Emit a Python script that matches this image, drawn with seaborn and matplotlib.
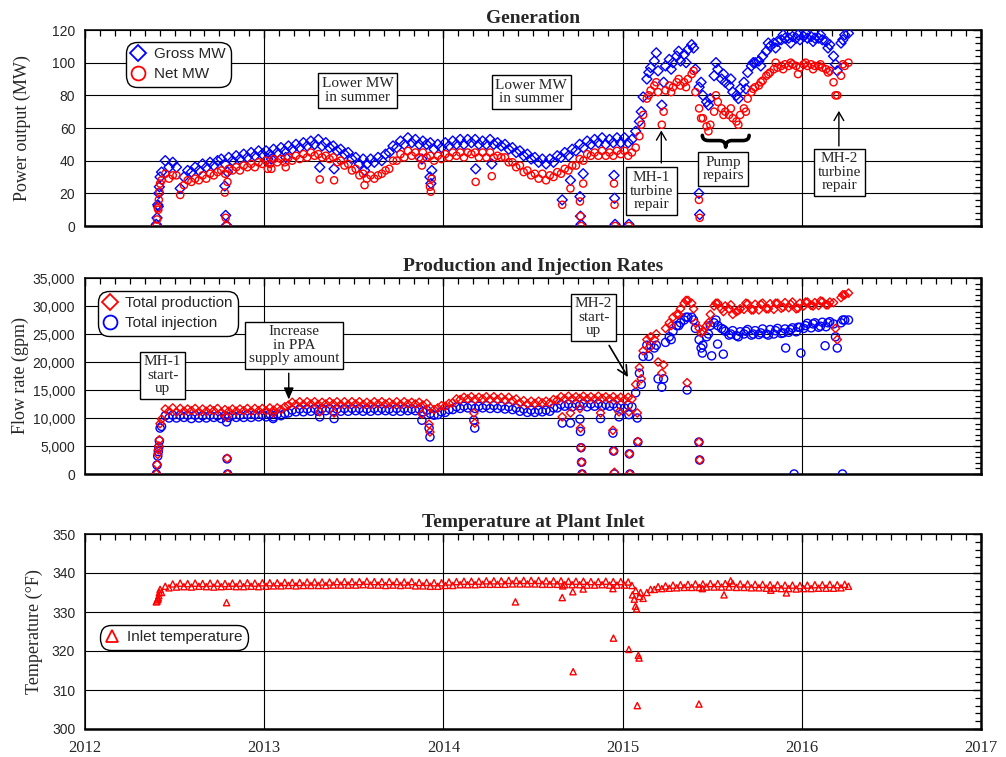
import numpy as np
import matplotlib
matplotlib.use("Agg")
import matplotlib.pyplot as plt
import seaborn as sns
from matplotlib.lines import Line2D
from matplotlib.ticker import MultipleLocator, FuncFormatter
from matplotlib.path import Path
from matplotlib.patches import PathPatch

# ------------------------------------------------------------------ data
# Regular readings: 4 per month, Jun 2012 ... Mar 2016, plus first week of Apr 2016
gross_mw = [
    33, 40, 36, 39,  36, 23, 30, 34,  33, 36, 34, 38,  36, 39, 37, 40,  41, 38, 42, 40,  43, 41, 44, 42,  45, 43, 46, 44,
    46, 44, 47, 45,  48, 46, 49, 47,  50, 48, 51, 49,  52, 50, 53, 49,  51, 48, 49, 46,  47, 44, 45, 41,
    42, 38, 41, 38,  41, 39, 42, 40,  44, 45, 49, 48,  52, 50, 54, 51,  53, 50, 52, 50,  51, 47, 50, 48,
    51, 49, 52, 50,  53, 50, 53, 51,  53, 50, 52, 50,  53, 50, 51, 49,  50, 47, 48, 45,  46, 43, 44, 41,
    42, 39, 41, 38,  41, 39, 43, 42,  45, 43, 47, 46,  50, 48, 52, 50,  53, 51, 54, 50,  53, 51, 54, 51,
    54, 51, 53, 58,  64, 79, 90, 97,  101, 95, 74, 98,  102, 100, 104, 101,  105, 108, 111, 96,  85, 80, 76, 78,
    92, 96, 90, 88,  86, 82, 80, 84,  88, 94, 98, 100,  101, 104, 107, 110,  112, 113, 114, 115,  115, 116, 115, 114,
    116, 115, 116, 115,  115, 114, 113, 111,  104, 95, 112, 117,  118,
]
net_mw = [
    28, 32, 29, 31,  31, 19, 25, 28,  27, 29, 28, 31,  29, 32, 31, 33,  34, 32, 35, 34,  36, 34, 37, 36,  38, 36, 39, 38,
    40, 38, 41, 39,  41, 39, 42, 40,  43, 41, 44, 42,  45, 43, 44, 42,  43, 41, 42, 39,  40, 37, 38, 34,
    35, 31, 32, 29,  31, 29, 31, 32,  34, 35, 40, 40,  44, 42, 46, 43,  45, 42, 45, 42,  43, 40, 43, 41,
    44, 42, 45, 43,  45, 42, 45, 44,  45, 42, 45, 42,  45, 42, 43, 42,  42, 39, 39, 36,  37, 33, 34, 31,
    32, 29, 32, 28,  31, 30, 33, 32,  35, 34, 37, 37,  41, 40, 44, 43,  45, 43, 46, 43,  45, 43, 46, 44,
    46, 43, 45, 48,  55, 68, 78, 83,  86, 82, 62, 83,  86, 85, 88, 86,  88, 90, 93, 82,  72, 66, 61, 62,
    70, 76, 72, 70,  68, 66, 64, 68,  72, 78, 82, 85,  86, 89, 92, 94,  96, 97, 98, 99,  98, 99, 98, 97,
    99, 98, 99, 98,  98, 97, 96, 95,  88, 80, 92, 98,  100,
]
production_gpm = [
    9800, 11600, 11200, 11800,  11100, 11700, 11200, 11600,  11300, 11700, 11100, 11600,  11200, 11600, 11300, 11700,
    11000, 11500, 11200, 11600,  11200, 11600, 11300, 11700,  11200, 11700, 11300, 11700,
    11300, 11800, 11400, 11800,  11500, 12000, 12300, 12800,  12400, 12900, 12400, 12900,  12500, 12900, 12400, 12800,
    12500, 12900, 12500, 12900,  12400, 12900, 12400, 12900,  12500, 12900, 12400, 12800,  12400, 12900, 12500, 12900,
    12500, 12800, 12400, 12900,  12400, 12900, 12500, 12800,  12500, 12800, 12300, 12600,  11800, 11500, 11800, 12200,
    12100, 12600, 12700, 13400,  13300, 13700, 13400, 13800,  13300, 13700, 13400, 13800,  13300, 13800, 13300, 13700,
    13200, 13700, 13100, 13400,  12700, 13100, 12500, 13000,  12600, 13000, 12700, 13000,  12700, 13300, 13200, 13800,
    13400, 13900, 13400, 13800,  13500, 13900, 13400, 13800,  13400, 13900, 13500, 13800,  13400, 13800, 13300, 13700,
    13300, 13700, 13400, 16000,  19000, 22000, 24000, 24500,  24000, 20000, 18000, 26000,  27000, 28000, 28500, 29500,
    30500, 31000, 30500, 27000,  26000, 25500, 26500, 28500,  30000, 30500, 29500, 30000,  29500, 28500, 29000, 29500,
    29400, 30400, 29300, 30300,  29300, 30500, 29500, 30400,  29400, 30500, 29600, 30600,  29700, 30700, 29500, 30500,
    30000, 30700, 30100, 30600,  30100, 30800, 30200, 30700,  30600, 24000, 31500, 32000,  32300,
]
injection_gpm = [
    8500, 10400, 10000, 10500,  10000, 10500, 10100, 10500,  9900, 10500, 10000, 10400,  10000, 10500, 10100, 10400,
    9900, 10400, 10100, 10500,  10100, 10500, 10100, 10600,  10100, 10600, 10200, 10600,
    10200, 10700, 10200, 10700,  10400, 10800, 10900, 11400,  11100, 11600, 11100, 11600,  11200, 11700, 11200, 11700,
    11300, 11700, 11200, 11600,  11200, 11700, 11200, 11700,  11300, 11700, 11200, 11600,  11200, 11700, 11300, 11700,
    11300, 11600, 11200, 11700,  11200, 11700, 11300, 11600,  11300, 11600, 11100, 11400,  10800, 10500, 10600, 11100,
    11000, 11500, 11500, 12000,  11700, 12100, 11800, 12200,  11700, 12100, 11800, 12200,  11700, 12200, 11700, 12100,
    11600, 12000, 11500, 11800,  11200, 11600, 11000, 11400,  11000, 11400, 11100, 11400,  11200, 11800, 11800, 12400,
    12100, 12500, 12000, 12500,  12200, 12600, 12000, 12500,  12100, 12600, 12100, 12400,  12100, 12500, 11900, 12300,
    11800, 12300, 12000, 14500,  18000, 21000, 23000, 23000,  22500, 17000, 15500, 23500,  24500, 25500, 26500, 27000,
    27500, 28000, 28000, 26000,  24000, 23000, 24500, 26500,  27000, 26500, 26000, 25500,  24800, 25600, 24700, 25400,
    25000, 25800, 24800, 25600,  24900, 25900, 25000, 25800,  25000, 26000, 25100, 25900,  25300, 26100, 25400, 26200,
    26000, 26900, 26100, 27000,  26200, 27100, 26300, 27200,  26800, 22500, 27000, 27500,  27500,
]
inlet_temp_f = [
    335.0, 336.6, 336.2, 337.2,  336.4, 337.4, 336.5, 337.3,  336.4, 337.4, 336.6, 337.3,  336.5, 337.4, 336.4, 337.4,
    336.5, 337.3, 336.6, 337.4,  336.5, 337.4, 336.5, 337.5,  336.6, 337.4, 336.5, 337.5,
    336.6, 337.5, 336.7, 337.5,  336.7, 337.6, 336.8, 337.6,  336.7, 337.6, 336.8, 337.7,  336.8, 337.7, 336.8, 337.7,
    336.8, 337.7, 336.9, 337.8,  336.9, 337.8, 336.9, 337.8,  336.9, 337.8, 337.0, 337.9,  336.9, 337.8, 336.9, 337.8,
    336.8, 337.8, 336.9, 337.8,  336.8, 337.7, 336.9, 337.8,  336.7, 337.6, 336.7, 337.6,  336.6, 337.5, 336.6, 337.5,
    336.8, 337.7, 336.8, 337.8,  337.0, 337.9, 337.0, 337.9,  337.0, 337.9, 337.1, 338.0,  337.1, 338.0, 337.1, 338.0,
    337.1, 338.1, 337.2, 338.1,  337.2, 338.1, 337.2, 338.1,  337.2, 338.1, 337.1, 338.0,  337.1, 338.0, 337.1, 338.0,
    337.0, 337.9, 337.0, 337.9,  337.0, 337.9, 336.9, 337.8,  336.9, 337.8, 337.0, 337.9,  336.9, 337.8, 336.9, 337.8,
    336.9, 337.7, 336.8, 335.5,  334.0, 333.5, 335.0, 335.8,  335.8, 336.5, 336.0, 336.7,  336.1, 336.9, 336.2, 337.0,
    336.3, 337.1, 336.3, 337.2,  336.3, 337.2, 336.4, 337.3,  336.4, 337.3, 336.4, 337.3,  336.4, 337.3, 336.3, 337.2,
    336.3, 337.2, 336.2, 337.1,  336.2, 337.1, 336.1, 337.0,  336.1, 337.0, 336.0, 336.9,  336.0, 336.9, 335.9, 336.8,
    336.0, 336.9, 336.0, 337.0,  336.1, 337.0, 336.1, 337.1,  336.1, 337.0, 336.2, 337.1,  336.6,
]

# Additional spread of readings during the two-plant period (Feb 2015 - Mar 2016)
spread_year = [2015.104, 2015.146, 2015.188, 2015.229, 2015.271, 2015.313, 2015.354, 2015.396,
               2015.438, 2015.479, 2015.521, 2015.563, 2015.604, 2015.646, 2015.688, 2015.729,
               2015.771, 2015.813, 2015.854, 2015.896, 2015.938, 2015.979, 2016.021, 2016.063,
               2016.104, 2016.146, 2016.188, 2016.229]
spread_gross = [70, 94, 106, 88, 96, 107, 100, 109, 88, 74, 100, 93, 90, 78, 84, 100,
                98, 112, 109, 117, 112, 117, 118, 113, 117, 109, 99, 114]
spread_net = [62, 80, 88, 70, 82, 90, 85, 95, 66, 58, 80, 68, 72, 62, 70, 84,
              88, 93, 100, 96, 100, 93, 100, 96, 99, 94, 80, 99]
spread_prod = [17000, 22500, 25000, 19500, 26500, 28500, 31000, 29500, 25200, 27000, 30500, 29000,
               30200, 29200, 30500, 29300, 30300, 29500, 30500, 29800, 30300, 29600, 30700, 30000,
               30900, 30200, 26000, 32000]
spread_inj = [16000, 21000, 23000, 17000, 24000, 26500, 28000, 27500, 22500, 25000, 27500, 25800,
              25000, 24500, 25500, 25000, 25200, 24800, 25600, 25200, 25800, 26200, 26500, 26800,
              26400, 27000, 24500, 27500]

# MH-1 start-up ramp (late May 2012)
startup_year = [2012.398, 2012.402, 2012.406, 2012.409, 2012.412, 2012.415, 2012.419]
startup_gross = [1, 5, 13, 12, 20, 24, 30]
startup_net = [0, 4, 11, 10, 16, 21, 26]
startup_prod = [0, 1700, 3500, 4300, 5000, 6100, 9000]
startup_inj = [0, 1600, 3200, 4000, 4800, 5900, 8200]
startup_temp = [332.6, 332.8, 333.2, 333.6, 334.2, 335.0, 335.8]

# Outage / trip readings
gen_out_year = [2012.780, 2012.785, 2012.790, 2012.795, 2013.02, 2013.04, 2013.12, 2013.31, 2013.39,
                2013.56, 2013.88, 2013.925, 2013.93, 2013.935, 2014.18, 2014.27, 2014.663, 2014.709,
                2014.762, 2014.765, 2014.768, 2014.780, 2014.952, 2014.955, 2014.958, 2015.035,
                2015.426, 2015.430]
gen_out_gross = [24.5, 6.5, 0.5, 33, 41, 41, 42, 36, 35, 34, 41, 30, 26, 34, 35, 38, 16, 28,
                 18, 6, 1, 32, 31, 17, 1, 1, 20, 7]
gen_out_net = [20.5, 5, 0, 27, 35, 35, 36, 28.5, 28, 25, 37, 24, 21, 29, 27, 30.5, 13, 23,
               15, 6, 0, 26, 26, 13, 0, 0, 16, 5]

flow_out_year = [2012.79, 2012.793, 2012.796, 2013.05, 2013.31, 2013.39, 2013.88, 2013.92, 2013.925,
                 2014.17, 2014.175, 2014.663, 2014.709, 2014.762, 2014.765, 2014.768, 2014.771,
                 2014.774, 2014.877, 2014.946, 2014.95, 2014.954, 2014.98, 2015.035, 2015.038,
                 2015.041, 2015.082, 2015.085, 2015.36, 2015.426, 2015.43]
flow_out_prod = [10200, 2800, 0, 10900, 11100, 10900, 10700, 8900, 7500, 10900, 9100, 10200, 10900,
                 11700, 8200, 4700, 2100, 0, 10900, 7800, 4100, 300, 11100, 11100, 3600, 0, 10900,
                 5800, 16300, 5700, 2500]
flow_out_inj = [9300, 2700, 0, 9900, 10200, 9900, 9600, 8200, 6600, 9600, 8200, 9100, 9100,
                9800, 7600, 4700, 2100, 0, 9900, 7300, 4100, 0, 10200, 10600, 3600, 0, 10000,
                5700, 15000, 5700, 2500]
inj_out_year = [2015.445, 2015.497, 2015.53, 2015.562, 2015.91, 2015.957, 2015.995, 2016.13, 2016.227]
inj_out = [21600, 21100, 23200, 21400, 22500, 0, 21600, 22900, 0]

temp_out_year = [2012.79, 2014.402, 2014.663, 2014.666, 2014.722, 2014.724, 2014.78, 2014.946, 2014.949,
                 2015.035, 2015.055, 2015.065, 2015.072, 2015.078, 2015.082, 2015.088, 2015.092, 2015.10,
                 2015.426, 2015.445, 2015.566, 2015.603, 2015.827, 2015.914]
temp_out = [332.4, 332.6, 333.7, 336.7, 335.2, 314.7, 335.9, 336.0, 323.3, 320.4, 334.4, 333.3,
            331.5, 330.8, 306.0, 318.9, 318.2, 335.0, 306.4, 336.0, 334.4, 338.0, 335.6, 334.9]

# reading dates (decimal years) of the regular weekly readings
n_main = len(gross_mw)
main_year = 2012 + (5 + (np.arange(n_main) + 0.5) / 4) / 12

# ------------------------------------------------------------------ style
sns.set_style("white")
plt.rcParams["font.family"] = ["Liberation Serif", "DejaVu Serif"]

BLUE = "#0000FF"
RED = "#FF0000"
SANS = "Liberation Sans"
SERIF = "Liberation Serif"

fig = plt.figure(figsize=(10.06, 7.57), dpi=100)
L, W = 85 / 1006, 896 / 1006
ax1 = fig.add_axes([L, 1 - 226 / 757, W, 196 / 757])
ax2 = fig.add_axes([L, 1 - 474 / 757, W, 196 / 757])
ax3 = fig.add_axes([L, 1 - 729 / 757, W, 195 / 757])


def draw(ax, x, y, marker, color, s, lw, z):
    sns.scatterplot(x=np.asarray(x, float), y=np.asarray(y, float), ax=ax, marker=marker,
                    s=s, color=color, linewidth=lw, legend=False, zorder=z)
    coll = ax.collections[-1]
    coll.set_facecolor("none")
    coll.set_edgecolor(color)
    coll.set_linewidth(lw)


def cat(*arrs):
    return np.concatenate([np.asarray(a, float) for a in arrs])


# ---- panel 1: generation
xg = cat(startup_year, main_year, spread_year, gen_out_year)
draw(ax1, xg, cat(startup_gross, gross_mw, spread_gross, gen_out_gross), "D", BLUE, 26, 1.0, 3)
draw(ax1, xg, cat(startup_net, net_mw, spread_net, gen_out_net), "o", RED, 27, 1.0, 4)

# ---- panel 2: flow
xf = cat(startup_year, main_year, spread_year, flow_out_year)
draw(ax2, cat(xf, inj_out_year), cat(startup_inj, injection_gpm, spread_inj, flow_out_inj, inj_out),
     "o", BLUE, 34, 1.0, 3)
draw(ax2, xf, cat(startup_prod, production_gpm, spread_prod, flow_out_prod), "D", RED, 18, 1.0, 4)

# ---- panel 3: temperature
draw(ax3, cat(startup_year, main_year, temp_out_year), cat(startup_temp, inlet_temp_f, temp_out),
     "^", RED, 20, 1.0, 3)

# ------------------------------------------------------------------ axes
for ax in (ax1, ax2, ax3):
    ax.set_xlim(2012, 2017)
    ax.xaxis.set_major_locator(MultipleLocator(1))
    ax.xaxis.set_minor_locator(MultipleLocator(1 / 12))
    ax.grid(True, which="major", color="black", lw=0.8)
    ax.set_axisbelow(True)
    ax.tick_params(which="both", direction="in", top=True, right=True, color="black")
    ax.tick_params(which="major", length=6, width=1.0)
    ax.tick_params(which="minor", length=4, width=0.9)
    ax.tick_params(axis="y", labelsize=10, labelfontfamily=SANS, pad=7)
    ax.tick_params(axis="x", labelsize=12, labelfontfamily=SERIF, pad=8)
    for side in ("left", "top"):
        ax.spines[side].set_linewidth(1.1)
    for side in ("right", "bottom"):
        ax.spines[side].set_linewidth(1.8)
    for sp in ax.spines.values():
        sp.set_color("black")
    ax.set_xlabel("")

ax1.tick_params(axis="x", labelbottom=False)
ax2.tick_params(axis="x", labelbottom=False)
ax3.xaxis.set_major_formatter(FuncFormatter(lambda v, p: f"{int(round(v))}"))

ax1.set_ylim(0, 120)
ax1.yaxis.set_major_locator(MultipleLocator(20))
ax1.yaxis.set_minor_locator(MultipleLocator(4))
ax2.set_ylim(0, 35000)
ax2.yaxis.set_major_locator(MultipleLocator(5000))
ax2.yaxis.set_minor_locator(MultipleLocator(1000))
ax2.yaxis.set_major_formatter(FuncFormatter(lambda v, p: f"{v:,.0f}"))
ax3.set_ylim(300, 350)
ax3.yaxis.set_major_locator(MultipleLocator(10))
ax3.yaxis.set_minor_locator(MultipleLocator(2))

for ax, ttl, yl, lx in ((ax1, "Generation", "Power output (MW)", -0.060),
                        (ax2, "Production and Injection Rates", "Flow rate (gpm)", -0.063),
                        (ax3, "Temperature at Plant Inlet", "Temperature (°F)", -0.047)):
    ax.set_title(ttl, fontsize=14, fontweight="bold", family=SERIF, pad=5)
    ax.set_ylabel(yl, fontsize=13, family=SERIF)
    ax.yaxis.set_label_coords(lx, 0.5)

# ------------------------------------------------------------------ legends
def make_legend(ax, handles, labels, anchor):
    leg = ax.legend(handles, labels, loc="upper left", bbox_to_anchor=anchor,
                    prop={"family": SANS, "size": 11}, frameon=True, fancybox=True,
                    edgecolor="black", facecolor="white", framealpha=1, borderaxespad=0,
                    borderpad=0.35, handlelength=0.9, handletextpad=0.55, labelspacing=0.4)
    fr = leg.get_frame()
    fr.set_linewidth(1.0)
    fr.set_boxstyle("round,pad=0,rounding_size=0.75")
    leg.set_zorder(20)
    return leg


def h(marker, color, ms):
    return Line2D([], [], ls="none", marker=marker, ms=ms, mfc="none", mec=color, mew=1.3)


make_legend(ax1, [h("D", BLUE, 8), h("o", RED, 10)], ["Gross MW", "Net MW"], (0.0458, 0.939))
make_legend(ax2, [h("D", RED, 8), h("o", BLUE, 10)], ["Total production", "Total injection"],
            (0.0145, 0.934))
make_legend(ax3, [h("^", RED, 9)], ["Inlet temperature"], (0.0167, 0.533))

# ------------------------------------------------------------------ annotations
BOX = dict(boxstyle="square,pad=0.25", fc="white", ec="black", lw=1.0)


def label(ax, x, y, s):
    ax.text(x, y, s, ha="center", va="center", fontsize=11, family=SERIF, bbox=BOX,
            linespacing=1.05, zorder=15)


def arrow(ax, tip, start, style, lw=1.0):
    ax.annotate("", xy=tip, xytext=start, zorder=14,
                arrowprops=dict(arrowstyle=style, lw=lw, color="black", fc="black",
                                shrinkA=0, shrinkB=0))


label(ax1, 2013.52, 83, "Lower MW\nin summer")
label(ax1, 2014.49, 82, "Lower MW\nin summer")
label(ax1, 2015.16, 21.4, "MH-1\nturbine\nrepair")
arrow(ax1, (2015.216, 58.5), (2015.216, 38.6), "->,head_length=0.6,head_width=0.35")
label(ax1, 2015.56, 34.9, "Pump\nrepairs")
label(ax1, 2016.21, 32.8, "MH-2\nturbine\nrepair")
arrow(ax1, (2016.207, 70.5), (2016.207, 49), "->,head_length=0.6,head_width=0.35")

# curly brace over the pump-repair period
bx0, bx1, bxc = 2015.445, 2015.706, 2015.575
by_top, by_mid, by_bot = 55.5, 52.3, 48.3
q = 0.035
verts = [(bx0, by_top), (bx0, by_mid), (bx0 + q, by_mid), (bxc - q, by_mid),
         (bxc, by_mid), (bxc, by_bot), (bxc, by_mid), (bxc + q, by_mid),
         (bx1 - q, by_mid), (bx1, by_mid), (bx1, by_top)]
codes = [Path.MOVETO, Path.CURVE3, Path.CURVE3, Path.LINETO,
         Path.CURVE3, Path.CURVE3, Path.CURVE3, Path.CURVE3,
         Path.LINETO, Path.CURVE3, Path.CURVE3]
ax1.add_patch(PathPatch(Path(verts, codes), fc="none", ec="black", lw=2.6, zorder=14,
                        capstyle="round", joinstyle="round"))

label(ax2, 2012.433, 17600, "MH-1\nstart-\nup")
label(ax2, 2013.168, 22950, "Increase\nin PPA\nsupply amount")
arrow(ax2, (2013.137, 13300), (2013.137, 18000), "-|>,head_length=0.7,head_width=0.3")
label(ax2, 2014.838, 27950, "MH-2\nstart-\nup")
arrow(ax2, (2015.03, 17300), (2014.925, 22950), "->,head_length=0.7,head_width=0.35", lw=1.2)

fig.savefig("out.png", dpi=100)
